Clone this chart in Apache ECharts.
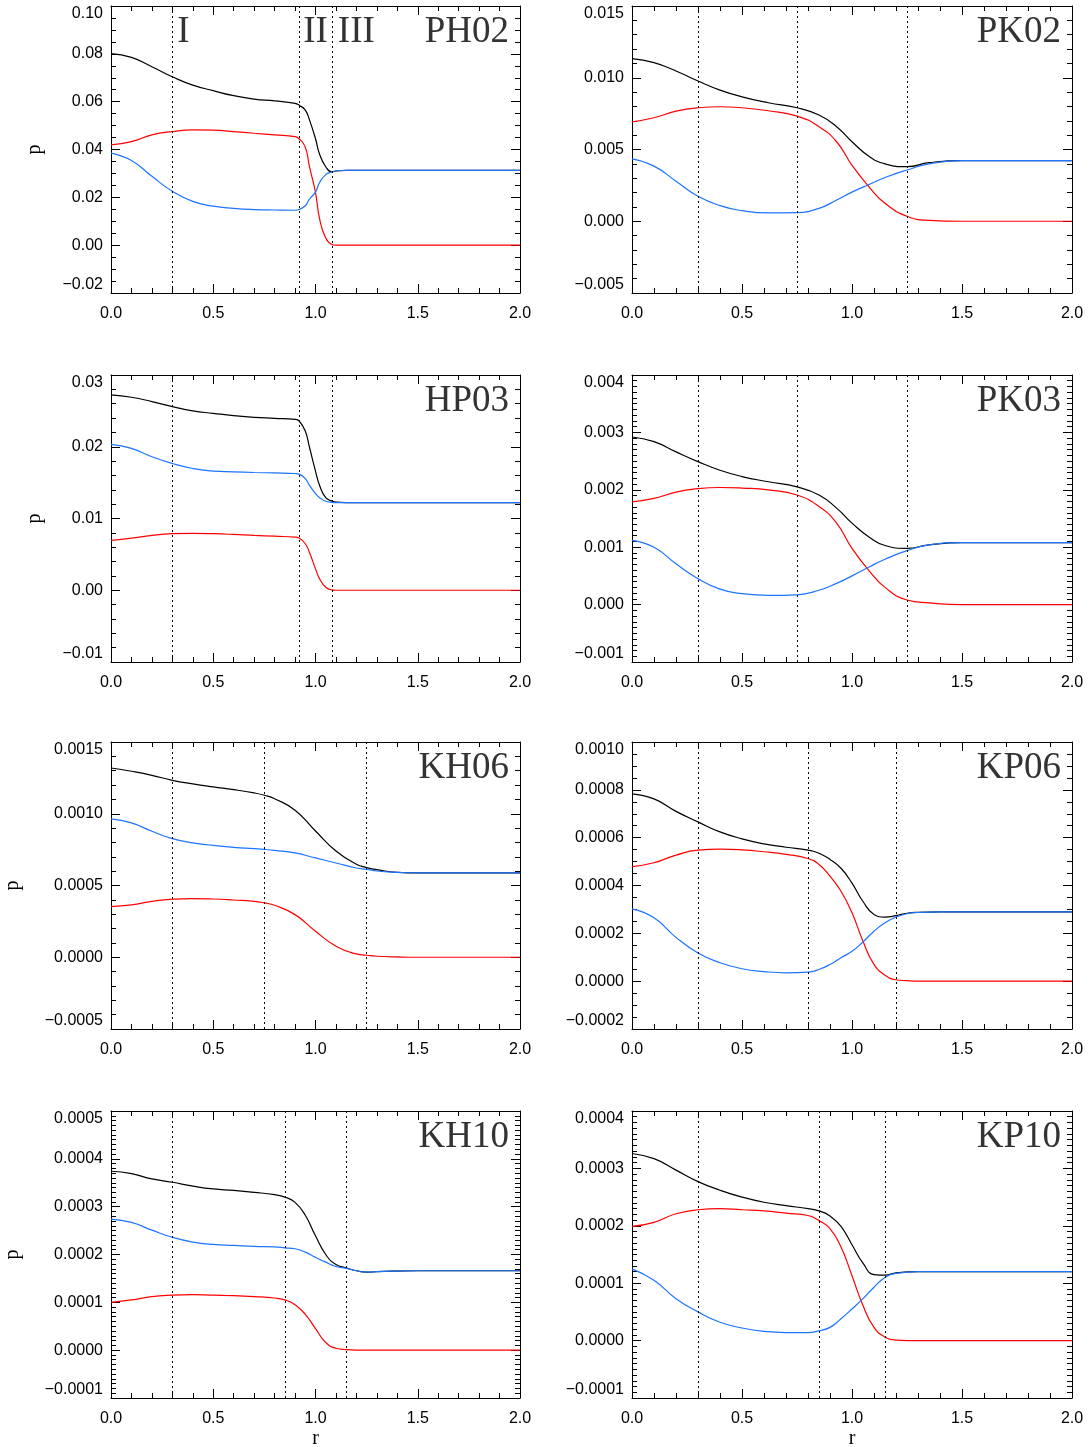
<!DOCTYPE html>
<html><head><meta charset="utf-8">
<script src="https://cdn.jsdelivr.net/npm/echarts@6/dist/echarts.min.js"></script>
<style>html,body{margin:0;padding:0;background:#fff}#c{width:1090px;height:1447px}</style>
</head><body><div id="c"></div>
<script>
// ---------------- DATA ----------------
const PANEL_NAMES = ['PH02','PK02','HP03','PK03','KH06','KP06','KH10','KP10'];
const REGION_LABELS = ['I','II','III'];

const PH02_R     = [0,0.1,0.2,0.3,0.4,0.5,0.6,0.7,0.8,0.9,0.92,0.95,0.97,1.0,1.02,1.05,1.08,1.1,1.15,1.2,1.5,2.0];
const PH02_BLACK = [0.0801,0.0785,0.0746,0.0704,0.0669,0.0646,0.0625,0.0611,0.0603,0.0593,0.0585,0.0565,0.0525,0.0445,0.0380,0.0328,0.0306,0.0310,0.0313,0.0313,0.0313,0.0313];
const PH02_RED   = [0.0419,0.0433,0.0461,0.0475,0.0482,0.0481,0.0475,0.0468,0.0461,0.0454,0.0445,0.0410,0.0330,0.0220,0.0110,0.0030,0.0003,0,0,0,0,0];
const PH02_BLUE  = [0.0385,0.0354,0.0288,0.0225,0.0183,0.0163,0.0154,0.0149,0.0147,0.0146,0.0149,0.0165,0.0192,0.0222,0.0262,0.0295,0.0306,0.0310,0.0313,0.0313,0.0313,0.0313];
const PH02_DIV   = [0.3,0.92,1.08];

const PK02_R     = [0,0.1,0.2,0.3,0.4,0.5,0.62,0.75,0.85,0.93,1.0,1.08,1.15,1.25,1.35,1.5,2.0];
const PK02_BLACK = [0.01133,0.01105,0.01047,0.00977,0.00914,0.00867,0.00826,0.00791,0.0074,0.00659,0.00554,0.0045,0.0040,0.0038,0.00408,0.00423,0.00423];
const PK02_RED   = [0.00693,0.00721,0.00767,0.00791,0.00798,0.00791,0.0077,0.00733,0.00659,0.00554,0.0039,0.00235,0.00125,0.00035,0.00006,0,0];
const PK02_BLUE  = [0.00435,0.00384,0.00279,0.00174,0.00109,0.00074,0.00058,0.0006,0.0009,0.00148,0.00203,0.00258,0.00305,0.00357,0.00400,0.00423,0.00423];
const PK02_DIV   = [0.3,0.75,1.25];

const HP03_R     = [0,0.1,0.2,0.3,0.4,0.5,0.6,0.7,0.8,0.9,0.92,0.95,0.97,1.0,1.02,1.05,1.08,1.1,1.15,1.5,2.0];
const HP03_BLACK = [0.02723,0.0269,0.0263,0.0256,0.0250,0.02466,0.02434,0.0241,0.02396,0.02382,0.02359,0.0222,0.0200,0.0166,0.0146,0.0129,0.01245,0.01228,0.01222,0.01221,0.01221];
const HP03_RED   = [0.00695,0.00727,0.00765,0.00788,0.00793,0.00788,0.00778,0.00765,0.00753,0.00741,0.00727,0.00648,0.00531,0.00298,0.00159,0.00042,0.00005,0,0,0,0];
const HP03_BLUE  = [0.02033,0.01977,0.0186,0.01767,0.01697,0.0166,0.0165,0.01641,0.01635,0.01627,0.01618,0.01557,0.01464,0.01347,0.0129,0.0124,0.01226,0.01222,0.01221,0.01221,0.01221];
const HP03_DIV   = [0.3,0.92,1.08];

const PK03_R     = [0,0.1,0.2,0.3,0.4,0.5,0.62,0.75,0.85,0.93,1.0,1.08,1.15,1.25,1.35,1.5,2.0];
const PK03_BLACK = [0.00292,0.00284,0.00266,0.00249,0.00234,0.00223,0.00214,0.00205,0.00191,0.00168,0.00142,0.00117,0.00103,0.00098,0.00104,0.00108,0.00108];
const PK03_RED   = [0.00179,0.00185,0.00196,0.00202,0.00204,0.00203,0.0020,0.00191,0.00171,0.00142,0.00098,0.00058,0.00030,0.00008,0.00003,0,0];
const PK03_BLUE  = [0.00112,0.001,0.00071,0.00045,0.00027,0.00019,0.00016,0.00017,0.00025,0.00037,0.0005,0.00066,0.00079,0.00094,0.00104,0.00108,0.00108];
const PK03_DIV   = [0.3,0.75,1.25];

const KH06_R     = [0,0.1,0.2,0.3,0.4,0.5,0.6,0.7,0.75,0.8,0.9,1.0,1.1,1.2,1.25,1.3,1.4,1.5,2.0];
const KH06_BLACK = [0.001319,0.001296,0.001268,0.001233,0.001208,0.001187,0.001168,0.001145,0.001129,0.001105,0.001025,0.000880,0.000740,0.000648,0.000625,0.000610,0.000592,0.000588,0.000588];
const KH06_RED   = [0.000353,0.000365,0.00039,0.000404,0.000409,0.000406,0.000399,0.00039,0.000379,0.000362,0.000297,0.000181,0.000077,0.000023,0.000014,0.000007,0.000002,0,0];
const KH06_BLUE  = [0.000964,0.000936,0.000878,0.000827,0.000797,0.00078,0.000766,0.000757,0.000752,0.000745,0.000727,0.000692,0.000657,0.000622,0.000613,0.000601,0.000592,0.000588,0.000588];
const KH06_DIV   = [0.3,0.75,1.25];

const KP06_R     = [0,0.1,0.2,0.3,0.4,0.5,0.6,0.7,0.8,0.85,0.9,0.95,1.0,1.05,1.1,1.15,1.2,1.25,1.3,1.4,2.0];
const KP06_BLACK = [0.000783,0.000762,0.00071,0.000666,0.000624,0.000595,0.000574,0.00056,0.000548,0.000535,0.000509,0.000472,0.00041,0.000333,0.000279,0.000268,0.000274,0.000284,0.000288,0.00029,0.00029];
const KP06_RED   = [0.000479,0.000495,0.000527,0.000548,0.000552,0.000549,0.000541,0.00053,0.000513,0.000488,0.000439,0.000376,0.000286,0.000167,0.00007,0.000025,0.000006,0.000002,0,0,0];
const KP06_BLUE  = [0.000302,0.000265,0.000183,0.000118,0.000077,0.000052,0.00004,0.000035,0.000038,0.000049,0.00007,0.000098,0.000125,0.000164,0.000209,0.000244,0.000268,0.000282,0.000287,0.00029,0.00029];
const KP06_DIV   = [0.3,0.8,1.2];

const KH10_R     = [0,0.1,0.2,0.3,0.4,0.5,0.6,0.7,0.8,0.85,0.9,0.95,1.0,1.05,1.1,1.15,1.2,1.25,1.3,1.5,2.0];
const KH10_BLACK = [0.000374,0.000369,0.000358,0.000351,0.000343,0.000337,0.000334,0.00033,0.000325,0.00032,0.000309,0.000282,0.000239,0.0002,0.000179,0.000172,0.000166,0.000163,0.000164,0.000166,0.000166];
const KH10_RED   = [0.0001,0.000105,0.000112,0.000115,0.000116,0.000115,0.000114,0.000112,0.000109,0.000105,0.000095,0.000075,0.000045,0.000016,0.000004,0.000001,0,0,0,0,0];
const KH10_BLUE  = [0.000274,0.000267,0.000251,0.000236,0.000226,0.000221,0.000219,0.000217,0.000216,0.000214,0.000212,0.000205,0.000194,0.000184,0.000175,0.000171,0.000166,0.000163,0.000164,0.000166,0.000166];
const KH10_DIV   = [0.3,0.85,1.15];

const KP10_R     = [0,0.1,0.2,0.3,0.4,0.5,0.6,0.7,0.8,0.85,0.9,0.95,1.0,1.05,1.1,1.15,1.2,1.3,1.5,2.0];
const KP10_BLACK = [0.000326,0.000317,0.000297,0.000277,0.000262,0.00025,0.000241,0.000235,0.00023,0.000226,0.000217,0.000199,0.000167,0.000135,0.000115,0.000114,0.000118,0.00012,0.00012,0.00012];
const KP10_RED   = [0.000199,0.000206,0.000221,0.000228,0.00023,0.000228,0.000226,0.000222,0.000218,0.000209,0.000195,0.000163,0.000113,0.000061,0.000023,0.000006,0.000001,0,0,0];
const KP10_BLUE  = [0.000125,0.000105,0.000073,0.00005,0.000032,0.000022,0.000016,0.000014,0.000014,0.000017,0.000023,0.000038,0.000055,0.000073,0.000093,0.00011,0.000117,0.00012,0.00012,0.00012];
const KP10_DIV   = [0.3,0.85,1.15];

// axis settings (tick labels are generated from these)
const X_MIN = 0, X_MAX = 2, X_STEP = 0.5;
const Y_MIN  = [-0.02, -0.005, -0.01, -0.001, -0.0005, -0.0002, -0.0001, -0.0001];
const Y_MAX  = [0.10, 0.015, 0.03, 0.004, 0.0015, 0.0010, 0.0005, 0.0004];
const Y_STEP = [0.02, 0.005, 0.01, 0.001, 0.0005, 0.0002, 0.0001, 0.0001];
const Y_DEC  = [2, 3, 2, 3, 4, 4, 4, 4];
const Y_MINOR= [4, 5, 5, 10, 5, 4, 10, 10];

// ---------------- LAYOUT ----------------
const R_SETS = [PH02_R, PK02_R, HP03_R, PK03_R, KH06_R, KP06_R, KH10_R, KP10_R];
const BLACKS = [PH02_BLACK, PK02_BLACK, HP03_BLACK, PK03_BLACK, KH06_BLACK, KP06_BLACK, KH10_BLACK, KP10_BLACK];
const REDS   = [PH02_RED, PK02_RED, HP03_RED, PK03_RED, KH06_RED, KP06_RED, KH10_RED, KP10_RED];
const BLUES  = [PH02_BLUE, PK02_BLUE, HP03_BLUE, PK03_BLUE, KH06_BLUE, KP06_BLUE, KH10_BLUE, KP10_BLUE];
const DIVS   = [PH02_DIV, PK02_DIV, HP03_DIV, PK03_DIV, KH06_DIV, KP06_DIV, KH10_DIV, KP10_DIV];

const COL_LEFT = [111, 632], COL_W = [409, 440];
const ROW_TOP = [6, 375, 742, 1111], ROW_H = 287;
const BLACK = '#000000', RED = '#ff0000', BLUE = '#1c74ff';
const LABEL_FONT = '"Liberation Sans", Arial, Helvetica, sans-serif';
const SERIF = '"Liberation Serif", "Times New Roman", serif';

const grids = [], xAxes = [], yAxes = [], series = [], graphics = [];

function pairs(r, v) { return r.map((x, i) => [x, v[i]]); }
function fmtY(dec) { return v => v.toFixed(dec).replace('-', '\u2212'); }

PANEL_NAMES.forEach((name, i) => {
  const col = i % 2, row = Math.floor(i / 2);
  const left = COL_LEFT[col], width = COL_W[col], top = ROW_TOP[row];
  grids.push({ left, top, width, height: ROW_H, containLabel: false, outerBoundsMode: 'none' });
  const tickCommon = {
    axisLine: { show: true, onZero: false, lineStyle: { color: '#000', width: 1 } },
    axisTick: { show: true, inside: true, length: 9, lineStyle: { color: '#000', width: 1 } },
    minorTick: { show: true, length: 5, lineStyle: { color: '#000', width: 1 } },
    splitLine: { show: false }, minorSplitLine: { show: false }
  };
  xAxes.push(Object.assign({}, tickCommon, {
    type: 'value', gridIndex: i, position: 'bottom', min: X_MIN, max: X_MAX, interval: X_STEP,
    minorTick: Object.assign({}, tickCommon.minorTick, { splitNumber: 5 }),
    axisLabel: { show: true, margin: 13, fontSize: 16, fontFamily: LABEL_FONT, color: '#000',
      formatter: v => v.toFixed(1), showMinLabel: true, showMaxLabel: true },
    name: row === 3 ? 'r' : '', nameLocation: 'middle', nameGap: 31,
    nameTextStyle: { fontSize: 20, fontFamily: SERIF, color: '#000' }
  }));
  xAxes.push(Object.assign({}, tickCommon, {
    type: 'value', gridIndex: i, position: 'top', min: X_MIN, max: X_MAX, interval: X_STEP,
    minorTick: Object.assign({}, tickCommon.minorTick, { splitNumber: 5 }),
    axisLabel: { show: false }
  }));
  yAxes.push(Object.assign({}, tickCommon, {
    type: 'value', gridIndex: i, position: 'left', min: Y_MIN[i], max: Y_MAX[i], interval: Y_STEP[i],
    minorTick: Object.assign({}, tickCommon.minorTick, { splitNumber: Y_MINOR[i] }),
    axisLabel: { show: true, margin: 8, fontSize: 16, fontFamily: LABEL_FONT, color: '#000',
      formatter: fmtY(Y_DEC[i]), showMinLabel: true, showMaxLabel: true,
      verticalAlignMinLabel: 'bottom', verticalAlignMaxLabel: 'top' },
    name: col === 0 ? 'p' : '', nameLocation: 'middle', nameGap: row < 2 ? 66 : 88,
    nameTextStyle: { fontSize: 20, fontFamily: SERIF, color: '#000' }
  }));
  yAxes.push(Object.assign({}, tickCommon, {
    type: 'value', gridIndex: i, position: 'right', min: Y_MIN[i], max: Y_MAX[i], interval: Y_STEP[i],
    minorTick: Object.assign({}, tickCommon.minorTick, { splitNumber: Y_MINOR[i] }),
    axisLabel: { show: false }
  }));
  const lineCommon = { type: 'line', xAxisIndex: 2 * i, yAxisIndex: 2 * i, showSymbol: false,
    smooth: 0.5, silent: true, animation: false };
  series.push(Object.assign({}, lineCommon, {
    name: name + ' total', data: pairs(R_SETS[i], BLACKS[i]), lineStyle: { color: BLACK, width: 1.2 }, itemStyle: { color: BLACK },
    markLine: { silent: true, symbol: ['none', 'none'], label: { show: false }, animation: false,
      lineStyle: { type: [2, 3], color: '#000', width: 1 },
      data: DIVS[i].map(d => ({ xAxis: d })) }
  }));
  series.push(Object.assign({}, lineCommon, {
    name: name + ' red', data: pairs(R_SETS[i], REDS[i]), lineStyle: { color: RED, width: 1.2 }, itemStyle: { color: RED } }));
  series.push(Object.assign({}, lineCommon, {
    name: name + ' blue', data: pairs(R_SETS[i], BLUES[i]), lineStyle: { color: BLUE, width: 1.2 }, itemStyle: { color: BLUE } }));
  graphics.push({ type: 'text', x: left + width - 11, y: top + 26, silent: true,
    style: { text: name, font: '37px ' + SERIF, fill: '#333', textAlign: 'right', textVerticalAlign: 'middle' } });
});

const chart = echarts.init(document.getElementById('c'), null, { renderer: 'canvas' });
chart.setOption({
  animation: false, backgroundColor: '#fff',
  grid: grids, xAxis: xAxes, yAxis: yAxes, series: series, graphic: graphics
});
const offs = [5, 4, 6];
const extra = REGION_LABELS.map((t, k) => {
  const px = chart.convertToPixel({ xAxisIndex: 0 }, PH02_DIV[k]);
  return { type: 'text', x: px + offs[k], y: ROW_TOP[0] + 26, silent: true,
    style: { text: t, font: '37px ' + SERIF, fill: '#333', textAlign: 'left', textVerticalAlign: 'middle' } };
});
chart.setOption({ graphic: graphics.concat(extra) });
</script></body></html>
